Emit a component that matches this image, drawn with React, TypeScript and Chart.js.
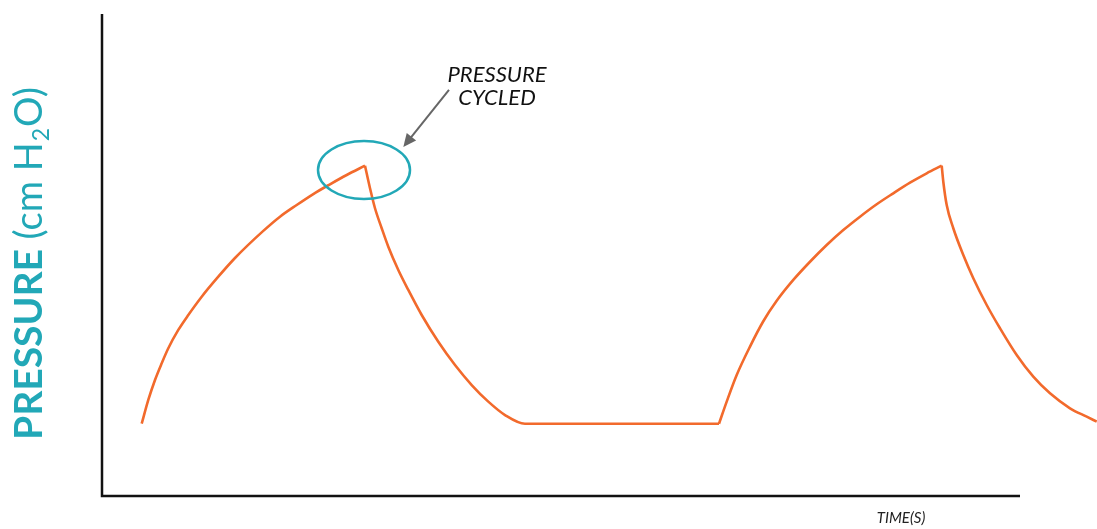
import React, { useEffect, useRef } from "react";
import { Chart, registerables } from "chart.js";

Chart.register(...registerables);

// Time (s) and pressure (cm H2O)
const rise1X = [0.397, 0.463, 0.53, 0.597, 0.663, 0.763, 0.863, 0.997, 1.163, 1.33, 1.613, 1.78, 1.947, 2.113, 2.28, 2.447, 2.63];
const rise1Y = [6.0, 7.97, 9.63, 11.01, 12.26, 13.78, 15.02, 16.54, 18.2, 19.75, 22.0, 23.18, 24.15, 25.06, 25.87, 26.64, 27.41];

const fall1X = [2.63, 2.68, 2.73, 2.797, 2.863, 2.963, 3.063, 3.197, 3.363, 3.53, 3.697, 3.863, 4.03, 4.23, 6.17];
const fall1Y = [27.41, 25.54, 23.88, 22.22, 20.69, 18.76, 17.1, 15.02, 12.8, 10.87, 9.21, 7.83, 6.72, 6.0, 6.0];

const rise2X = [6.17, 6.247, 6.347, 6.48, 6.613, 6.747, 6.913, 7.08, 7.247, 7.413, 7.58, 7.747, 7.913, 8.08, 8.247, 8.397];
const rise2Y = [6.0, 7.83, 10.04, 12.4, 14.5, 16.2, 17.93, 19.44, 20.83, 22.07, 23.18, 24.21, 25.12, 26.0, 26.78, 27.41];

const fall2X = [8.397, 8.413, 8.447, 8.513, 8.613, 8.713, 8.847, 8.98, 9.147, 9.313, 9.48, 9.68, 9.847, 9.947];
const fall2Y = [27.41, 26.08, 24.15, 22.22, 20.0, 18.07, 15.85, 13.92, 11.7, 9.9, 8.52, 7.28, 6.58, 6.17];

const X_MAX = 9.95;
const Y_MAX = 40;
const X_AXIS_END = 9.18;

const yTitleBold = "PRESSURE";
const yTitleRest = " (cm H";
const yTitleSub = "2";
const yTitleEnd = "O)";
const xTitle = "TIME(S)";
const noteLines = ["PRESSURE", "CYCLED"];

const ORANGE = "#F26A2C";
const TEAL = "#22A8B7";

const toPoints = (xs: number[], ys: number[]) => xs.map((x, i) => ({ x, y: ys[i] }));

const overlay = {
  id: "overlay",
  afterDraw(chart: any) {
    const { ctx, chartArea, scales } = chart;
    const xs = scales.x;
    const ys = scales.y;
    ctx.save();

    // axes
    ctx.strokeStyle = "#111";
    ctx.lineWidth = 2.5;
    ctx.lineCap = "butt";
    ctx.beginPath();
    ctx.moveTo(chartArea.left, chartArea.top);
    ctx.lineTo(chartArea.left, chartArea.bottom);
    ctx.lineTo(xs.getPixelForValue(X_AXIS_END), chartArea.bottom);
    ctx.stroke();

    // ellipse around first peak
    const ex = xs.getPixelForValue(2.62);
    const ey = ys.getPixelForValue(27.05);
    ctx.strokeStyle = TEAL;
    ctx.lineWidth = 2.5;
    ctx.beginPath();
    ctx.ellipse(ex, ey, 46, 29, 0, 0, Math.PI * 2);
    ctx.stroke();

    // arrow
    const ax0 = xs.getPixelForValue(3.47);
    const ay0 = ys.getPixelForValue(33.7);
    const ax1 = xs.getPixelForValue(3.013);
    const ay1 = ys.getPixelForValue(28.97);
    const ang = Math.atan2(ay1 - ay0, ax1 - ax0);
    const headLen = 13;
    const headW = 6;
    ctx.strokeStyle = "#666";
    ctx.fillStyle = "#666";
    ctx.lineWidth = 2;
    ctx.beginPath();
    ctx.moveTo(ax0, ay0);
    ctx.lineTo(ax1 - Math.cos(ang) * headLen * 0.8, ay1 - Math.sin(ang) * headLen * 0.8);
    ctx.stroke();
    ctx.beginPath();
    ctx.moveTo(ax1, ay1);
    ctx.lineTo(
      ax1 - Math.cos(ang) * headLen - Math.sin(ang) * headW,
      ay1 - Math.sin(ang) * headLen + Math.cos(ang) * headW
    );
    ctx.lineTo(
      ax1 - Math.cos(ang) * headLen + Math.sin(ang) * headW,
      ay1 - Math.sin(ang) * headLen - Math.cos(ang) * headW
    );
    ctx.closePath();
    ctx.fill();

    // annotation text
    ctx.fillStyle = "#111";
    ctx.font = "italic 22px Lato";
    ctx.textAlign = "center";
    ctx.textBaseline = "alphabetic";
    ctx.fillText(noteLines[0], 497, 82);
    ctx.fillText(noteLines[1], 497, 105);

    // x title
    ctx.font = "italic 15px Lato";
    ctx.fillStyle = "#222";
    ctx.fillText(xTitle, 901, 523);

    // y title (rotated)
    ctx.translate(42, 440);
    ctx.rotate(-Math.PI / 2);
    ctx.textAlign = "left";
    ctx.fillStyle = TEAL;
    let cx = 0;
    ctx.font = "bold 39px Lato";
    ctx.fillText(yTitleBold, cx, 0);
    cx += ctx.measureText(yTitleBold).width;
    ctx.font = "38px Lato";
    ctx.fillText(yTitleRest, cx, 0);
    cx += ctx.measureText(yTitleRest).width;
    ctx.font = "23px Lato";
    ctx.fillText(yTitleSub, cx + 1, 7);
    cx += ctx.measureText(yTitleSub).width + 2;
    ctx.font = "38px Lato";
    ctx.fillText(yTitleEnd, cx, 0);

    ctx.restore();
  },
};

export default function App() {
  const ref = useRef<HTMLCanvasElement | null>(null);

  useEffect(() => {
    document.body.style.margin = "0";
    if (!ref.current) return;
    const common = {
      borderColor: ORANGE,
      borderWidth: 2.6,
      pointRadius: 0,
      cubicInterpolationMode: "monotone" as const,
      fill: false,
    };
    const chart = new Chart(ref.current, {
      type: "line",
      data: {
        datasets: [
          { ...common, data: toPoints(rise1X, rise1Y) },
          { ...common, data: toPoints(fall1X, fall1Y) },
          { ...common, data: toPoints(rise2X, rise2Y) },
          { ...common, data: toPoints(fall2X, fall2Y) },
        ],
      },
      options: {
        animation: false,
        responsive: false,
        maintainAspectRatio: false,
        layout: { padding: { left: 102, top: 14, right: 0, bottom: 33 } },
        plugins: { legend: { display: false }, tooltip: { enabled: false } },
        scales: {
          x: { type: "linear", min: 0, max: X_MAX, display: false },
          y: { type: "linear", min: 0, max: Y_MAX, display: false },
        },
      },
      plugins: [overlay],
    });
    return () => chart.destroy();
  }, []);

  return (
    <div style={{ position: "absolute", left: 0, top: 0, width: 1097, height: 529, background: "#fff" }}>
      <canvas ref={ref} width={1097} height={529} style={{ width: 1097, height: 529 }} />
    </div>
  );
}
